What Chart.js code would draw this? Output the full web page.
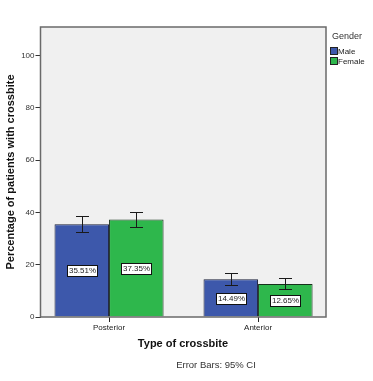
<!DOCTYPE html>
<html>
<head>
<meta charset="utf-8">
<script src="https://cdn.jsdelivr.net/npm/chart.js@4"></script>
<style>
  body { margin: 0; background: #fff; }
  #box { width: 373px; height: 381px; }
</style>
</head>
<body>
<div id="box"><canvas id="crossbiteChart" width="373" height="381"></canvas></div>
<script>
const categories = ['Posterior', 'Anterior'];
const genders = ['Male', 'Female'];
const maleValues = [35.51, 14.49];
const femaleValues = [37.35, 12.65];
const maleLower = [32.7, 12.4];
const maleUpper = [38.5, 16.7];
const femaleLower = [34.4, 10.7];
const femaleUpper = [40.3, 14.8];
const yTicks = [0, 20, 40, 60, 80, 100];

const blue = '#3d58ab';
const green = '#2eb74c';

function points(values) {
    return values.map((v, i) => ({ x: i, y: v }));
}

// plot background + frame, error bars, value boxes, titles, legend
const spssLook = {
    id: 'spssLook',
    beforeDatasetsDraw(chart) {
        const { ctx, chartArea: a } = chart;
        ctx.save();
        ctx.fillStyle = '#f0f0f0';
        ctx.fillRect(a.left, a.top, a.right - a.left, a.bottom - a.top);
        ctx.restore();
    },
    afterDatasetsDraw(chart) {
        const { ctx, chartArea: a } = chart;
        const y = chart.scales.y;
        const lows = [maleLower, femaleLower];
        const highs = [maleUpper, femaleUpper];
        ctx.save();

        chart.data.datasets.forEach((ds, di) => {
            const meta = chart.getDatasetMeta(di);
            meta.data.forEach((bar, i) => {
                const x = Math.round(bar.x) + 0.5;
                // error bar
                const top = Math.round(y.getPixelForValue(highs[di][i])) + 0.5;
                const bot = Math.round(y.getPixelForValue(lows[di][i])) + 0.5;
                ctx.strokeStyle = '#1a1a1a';
                ctx.lineWidth = 1;
                ctx.beginPath();
                ctx.moveTo(x, top); ctx.lineTo(x, bot);
                ctx.moveTo(x - 6.5, top); ctx.lineTo(x + 6.5, top);
                ctx.moveTo(x - 6.5, bot); ctx.lineTo(x + 6.5, bot);
                ctx.stroke();

                // value label box in the middle of the bar
                const cy = y.getPixelForValue(ds.data[i].y / 2);
                const w = 30, h = 11;
                const bx = Math.round(bar.x - w / 2) + 0.5, by = Math.round(cy - h / 2) + 0.5;
                ctx.fillStyle = '#fff';
                ctx.fillRect(bx, by, w, h);
                ctx.strokeStyle = '#111';
                ctx.strokeRect(bx, by, w, h);
                ctx.fillStyle = '#222';
                ctx.font = '8px "Liberation Sans", Arial, sans-serif';
                ctx.textAlign = 'center';
                ctx.textBaseline = 'middle';
                ctx.fillText(ds.data[i].y.toFixed(2) + '%', bx + w / 2, cy + 0.5);
            });
        });

        // plot frame
        ctx.strokeStyle = '#6a6a6a';
        ctx.lineWidth = 1.5;
        ctx.strokeRect(a.left, a.top, a.right - a.left, a.bottom - a.top);

        // axis titles
        ctx.fillStyle = '#111';
        ctx.font = 'bold 11px "Liberation Sans", Arial, sans-serif';
        ctx.textAlign = 'center';
        ctx.textBaseline = 'middle';
        ctx.fillText('Type of crossbite', 183, 344);
        ctx.save();
        ctx.translate(11, 172);
        ctx.rotate(-Math.PI / 2);
        ctx.fillText('Percentage of patients with crossbite', 0, 0);
        ctx.restore();

        ctx.font = '9.5px "Liberation Sans", Arial, sans-serif';
        ctx.fillStyle = '#333';
        ctx.fillText('Error Bars: 95% CI', 216, 365);

        // legend
        ctx.textAlign = 'left';
        ctx.font = '9px "Liberation Sans", Arial, sans-serif';
        ctx.fillText('Gender', 332, 37);
        ctx.font = '8px "Liberation Sans", Arial, sans-serif';
        chart.data.datasets.forEach((ds, di) => {
            const ly = 47.5 + di * 10;
            ctx.fillStyle = ds.backgroundColor;
            ctx.fillRect(330.5, ly, 7, 7);
            ctx.strokeStyle = '#222';
            ctx.lineWidth = 1;
            ctx.strokeRect(330.5, ly, 7, 7);
            ctx.fillStyle = '#222';
            ctx.fillText(ds.label, 338, ly + 4);
        });
        ctx.restore();
    }
};

const ctx = document.getElementById('crossbiteChart').getContext('2d');
const chart = new Chart(ctx, {
    type: 'bar',
    data: {
        datasets: [
            { label: genders[0], data: points(maleValues), backgroundColor: blue, borderColor: '#1a1f38', borderWidth: 1 },
            { label: genders[1], data: points(femaleValues), backgroundColor: green, borderColor: '#16301b', borderWidth: 1 }
        ]
    },
    options: {
        responsive: false,
        animation: false,
        layout: { padding: { top: 27, right: 47, bottom: 0, left: 0 } },
        datasets: {
            bar: { categoryPercentage: 0.732, barPercentage: 1 }
        },
        plugins: {
            legend: { display: false },
            tooltip: { enabled: false }
        },
        scales: {
            x: {
                type: 'linear',
                min: -0.46,
                max: 1.456,
                offset: false,
                afterBuildTicks(scale) { scale.ticks = categories.map((c, i) => ({ value: i })); },
                afterFit(scale) { scale.height = 64; },
                grid: { offset: false, drawOnChartArea: false, tickLength: 5, color: '#222' },
                border: { display: false },
                ticks: {
                    padding: 1,
                    color: '#222',
                    font: { family: '"Liberation Sans", Arial, sans-serif', size: 8 },
                    callback: (v) => categories[v]
                }
            },
            y: {
                min: 0,
                max: 111,
                afterBuildTicks(scale) { scale.ticks = yTicks.map(v => ({ value: v })); },
                afterFit(scale) { scale.width = 40.5; },
                grid: { drawOnChartArea: false, tickLength: 5, color: '#333' },
                border: { display: false },
                ticks: {
                    padding: 1,
                    color: '#333',
                    font: { family: '"Liberation Sans", Arial, sans-serif', size: 8 }
                }
            }
        }
    },
    plugins: [spssLook]
});
</script>
</body>
</html>
